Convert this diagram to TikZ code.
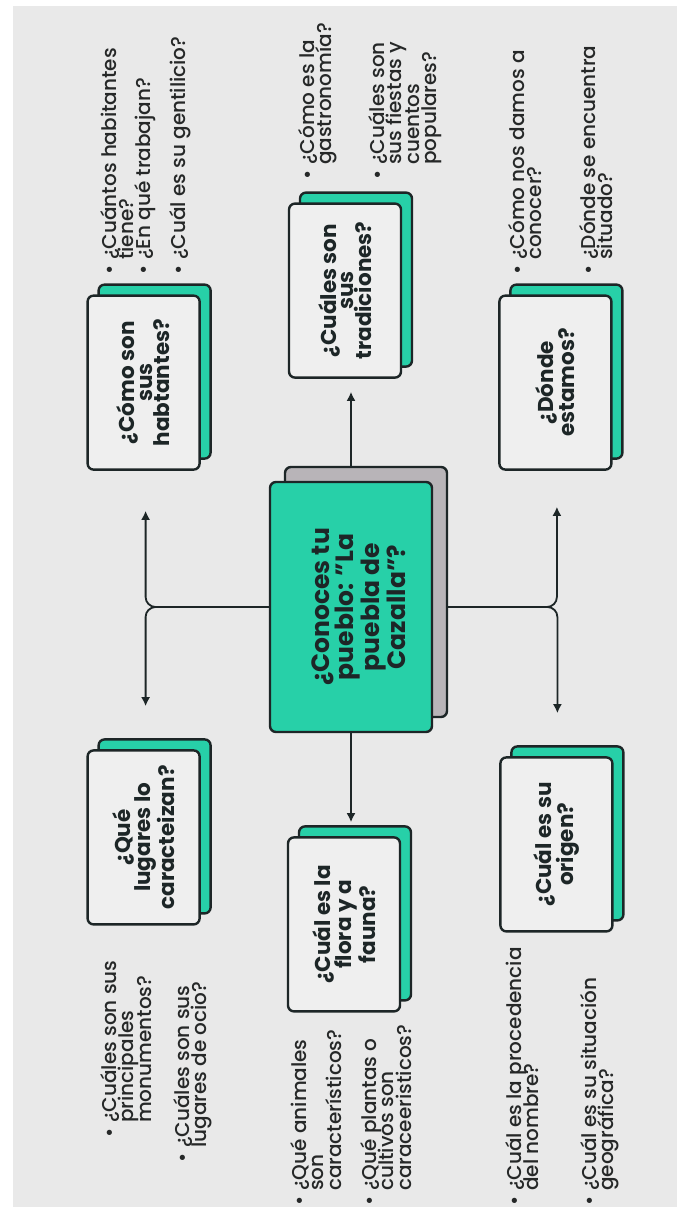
\documentclass[tikz,border=0pt]{standalone}
\usepackage{fontspec}
\setmainfont{Poppins}
\newfontfamily\qfont{Poppins Medium}
\usepackage{xcolor}
\usepackage{graphicx}
\usepackage{tikz}
\usetikzlibrary{arrows.meta, positioning, calc, shadows, backgrounds}
\definecolor{paper}{HTML}{E9E9E9}
\definecolor{cardfill}{HTML}{EFEFEF}
\definecolor{mint}{HTML}{27D0A8}
\definecolor{stone}{HTML}{B8B4B8}
\definecolor{ink}{HTML}{1D2627}
\definecolor{textgray}{HTML}{262828}
\newcommand{\cardtext}[2]{\rotatebox{90}{\parbox{#1}{\centering #2}}}
\newcommand{\bul}{\llap{\textbullet\hspace{5pt}}}
\tikzset{
  cardbase/.style={
    rectangle, rounded corners=6pt,
    minimum width=112pt, minimum height=174pt, inner sep=0pt,
    draw=ink, line width=2.4pt, fill=cardfill, text=ink,
    font={\fontsize{21.5}{17.5}\selectfont\bfseries},
  },
  card/.style={
    cardbase,
    copy shadow={shadow xshift=11pt, shadow yshift=11pt, fill=mint, draw=ink, line width=2.4pt},
  },
  hub/.style={
    cardbase, fill=mint,
    minimum width=162pt, minimum height=250pt,
    font={\fontsize{25}{22}\selectfont\bfseries},
    copy shadow={shadow xshift=15pt, shadow yshift=15pt, fill=stone, draw=ink, line width=2.4pt},
  },
  question/.style={
    rotate=90, anchor=north west, align=left, inner sep=0pt, text=textgray,
    font={\qfont\fontsize{20}{17.5}\selectfont},
  },
  link/.style={line width=1.8pt, draw=ink, rounded corners=10pt},
  tip/.style={link, -{Latex[length=9pt, width=9pt]}},
}

\begin{document}
\lineskiplimit=-30pt
\lineskip=0pt
\begin{tikzpicture}[x=1pt, y=-1pt]
  \useasboundingbox (0,0) rectangle (677,1207);

  \node[hub] (hub) at (351,607) {\hspace{16pt}\cardtext{240pt}{¿Conoces tu\\pueblo: ”La\\puebla de\\Cazalla”?}};
  \node[card, above=102pt of hub, xshift=-6pt] (trad) {\cardtext{160pt}{¿Cuáles son\\sus\\tradiciones?}};
  \node[card, above left=10pt and 68pt of hub] (habit) {\cardtext{160pt}{¿Cómo son\\sus\\habtantes?}};
  \node[card, above right=10pt and 65pt of hub] (donde) {\cardtext{160pt}{¿Dónde\\estamos?}};
  \node[card, below=103pt of hub, xshift=-7pt] (flora) {\cardtext{160pt}{¿Cuál es la\\flora y a\\fauna?}};
  \node[card, below left=16pt and 68pt of hub] (lugares) {\cardtext{160pt}{¿Qué\\lugares lo\\caracteizan?}};
  \node[card, below right=23pt and 66pt of hub] (origen) {\cardtext{160pt}{¿Cuál es su\\origen?}};

  \node[question] (a1) at (100,260) {\bul¿Cuántos habitantes\\tiene?};
  \node[question] (a2) at (134,260) {\bul¿En qué trabajan?};
  \node[question] (a3) at (169,260) {\bul¿Cuál es su gentilicio?};
  \node[question] (b1) at (298,165) {\bul¿Cómo es la\\gastronomía?};
  \node[question] (b2) at (368,165) {\bul¿Cuáles son\\sus fiestas y\\cuentos\\populares?};
  \node[question] (c1) at (508,260) {\bul¿Cómo nos damos a\\conocer?};
  \node[question] (c2) at (579,260) {\bul¿Dónde se encuentra\\situado?};
  \node[question] (d1) at (100,1123) {\bul¿Cuáles son sus\\principales\\monumentos?};
  \node[question] (d2) at (173,1148) {\bul¿Cuáles son sus\\lugares de ocio?};
  \node[question] (e1) at (290,1191) {\bul¿Qué animales\\son\\característicos?};
  \node[question] (e2) at (360,1191) {\bul¿Qué plantas o\\cultivos son\\caraceeristicos?};
  \node[question] (f1) at (505,1191) {\bul¿Cuál es la procedencia\\del nombre?};
  \node[question] (f2) at (580,1191) {\bul¿Cuál es su situación\\geográfica?};

  \coordinate (lt) at ($(habit.south)+(2,40)$);
  \coordinate (lb) at ($(lugares.north)+(2,-43)$);
  \coordinate (rt) at ($(donde.south)+(1.5,36)$);
  \coordinate (rb) at ($(origen.north)+(1,-43)$);
  \coordinate (tt) at ($(hub.north |- trad.south)+(0,13)$);
  \coordinate (bt) at ($(hub.south |- flora.north)+(0,-14)$);

  \begin{scope}[on background layer]
    \fill[white] (0,0) rectangle (677,1207);
    \fill[paper] (13,6) rectangle (677,1207);
    \draw[tip] (hub.west) -| (lt);
    \draw[tip] (hub.west) -| (lb);
    \draw[tip] (hub.east) -| (rt);
    \draw[tip] (hub.east) -| (rb);
    \draw[tip] (hub.north) -- (tt);
    \draw[tip] (hub.south) -- (bt);
  \end{scope}
\end{tikzpicture}
\end{document}
